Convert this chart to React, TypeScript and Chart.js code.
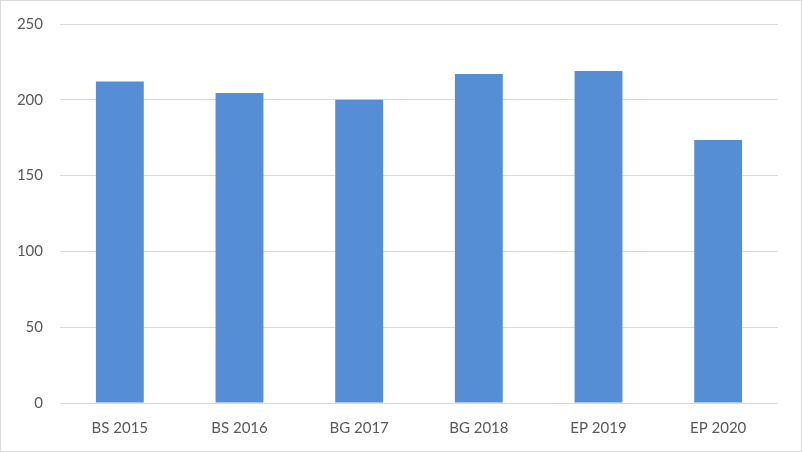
import React, { useEffect, useRef } from "react";
import { Chart, registerables } from "chart.js";

Chart.register(...registerables);

const categories = ["BS 2015", "BS 2016", "BG 2017", "BG 2018", "EP 2019", "EP 2020"];
const values = [212, 204.5, 200, 217, 219, 173.5];
const yTicks = [0, 50, 100, 150, 200, 250];

export default function App() {
  const ref = useRef<HTMLCanvasElement | null>(null);

  useEffect(() => {
    document.body.style.margin = "0";
    const ctx = ref.current;
    if (!ctx) return;
    const chart = new Chart(ctx, {
      type: "bar",
      data: {
        labels: categories,
        datasets: [
          {
            data: values,
            backgroundColor: "#558ed5",
            borderWidth: 0,
            categoryPercentage: 0.8,
            barPercentage: 0.5,
          },
        ],
      },
      options: {
        animation: false,
        responsive: false,
        maintainAspectRatio: false,
        devicePixelRatio: 1,
        layout: { padding: { left: 0, right: 23, top: 23, bottom: 0 } },
        plugins: { legend: { display: false }, tooltip: { enabled: false } },
        scales: {
          x: {
            grid: { display: false, drawTicks: false },
            border: { display: false },
            ticks: {
              color: "#595959",
              font: { family: "Lato", size: 15 },
              padding: 16,
              maxRotation: 0,
            },
            afterFit: (s: any) => {
              s.height = 48;
            },
          },
          y: {
            min: 0,
            max: 250,
            afterBuildTicks: (s: any) => {
              s.ticks = yTicks.map((v) => ({ value: v }));
            },
            grid: { color: "#d9d9d9", lineWidth: 1, drawTicks: false },
            border: { display: false },
            ticks: {
              color: "#595959",
              font: { family: "Lato", size: 15 },
              padding: 17,
            },
            afterFit: (s: any) => {
              s.width = 59;
              s.paddingTop = 0;
              s.paddingBottom = 0;
            },
          },
        },
      },
    });
    return () => chart.destroy();
  }, []);

  return (
    <div style={{ width: 800, height: 450, border: "1px solid #d9d9d9", background: "#fff" }}>
      <canvas ref={ref} width={800} height={450} style={{ display: "block" }} />
    </div>
  );
}
